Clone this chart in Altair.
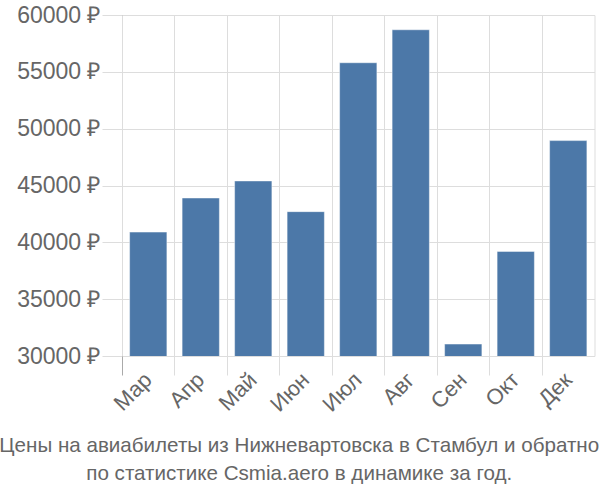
import altair as alt
import pandas as pd

months = ["Мар", "Апр", "Май", "Июн", "Июл", "Авг", "Сен", "Окт", "Дек"]
prices = [40900, 43900, 45400, 42700, 55800, 58700, 31050, 39200, 48950]
title_lines = [
    "Цены на авиабилеты из Нижневартовска в Стамбул и обратно",
    "по статистике Csmia.aero в динамике за год.",
]

df = pd.DataFrame({"month": months, "price": prices})

FONT = "Liberation Sans"

chart = (
    alt.Chart(df)
    .mark_bar(
        color="#4c78a8",
        width=alt.RelativeBandSize(0.71),
        stroke="white",
        strokeWidth=1,
        strokeOpacity=0.45,
        clip=True,
    )
    .encode(
        x=alt.X(
            "month:N",
            sort=months,
            title=None,
            scale=alt.Scale(paddingInner=0, paddingOuter=0),
            axis=alt.Axis(
                bandPosition=0,
                labelAngle=-45,
                labelAlign="right",
                labelBaseline="middle",
                labelFontSize=22,
                labelFont=FONT,
                labelColor="#666",
                labelPadding=1,
                ticks=True,
                tickSize=19,
                tickColor={
                    "condition": {"test": "datum.index === 0", "value": "#aaa"},
                    "value": "#ddd",
                },
                tickWidth=1,
                grid=True,
                gridColor="#ddd",
                domain=False,
                zindex=1,
            ),
        ),
        y=alt.Y(
            "price:Q",
            title=None,
            scale=alt.Scale(domain=[30000, 60000], nice=False, zero=False),
            axis=alt.Axis(
                values=[30000, 35000, 40000, 45000, 50000, 55000, 60000],
                labelExpr="datum.value + ' ₽'",
                labelFontSize=23,
                labelFont=FONT,
                labelColor="#666",
                labelPadding=2,
                tickSize=20,
                tickColor="#ddd",
                grid=True,
                gridColor="#ddd",
                domain=True,
                domainColor="#aaa",
                domainWidth=1,
            ),
        ),
    )
    .properties(
        width=472.5,
        height=341,
        autosize=alt.AutoSizeParams(type="none"),
        padding={"left": 122, "top": 15, "right": 5, "bottom": 144},
        title=alt.Title(
            text=title_lines,
            orient="bottom",
            anchor="middle",
            dx=-59,
            offset=21,
            fontSize=20.6,
            font=FONT,
            fontWeight="normal",
            color="#666",
            lineHeight=28,
        ),
    )
    .configure_view(stroke="#ddd")
)

chart.save("out.html", embed_options={"renderer": "svg", "actions": False})
